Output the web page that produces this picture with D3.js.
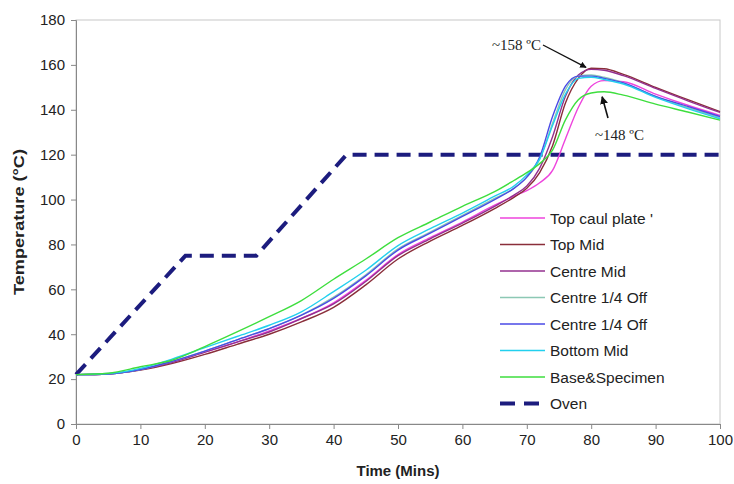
<!DOCTYPE html>
<html>
<head>
<meta charset="utf-8">
<script src="https://cdn.jsdelivr.net/npm/d3@7"></script>
<style>
  body { margin: 0; background: #fff; }
  svg { display: block; font-family: "Liberation Sans", Arial, sans-serif; }
</style>
</head>
<body>
<div id="chart"></div>
<script>
// ─── Data ───
var times = [0, 5, 10, 15, 20, 25, 30, 35, 40, 45, 50, 55, 60, 65, 68, 70, 72, 74, 76, 78, 80, 82, 85, 90, 95, 100];

var topCaul   = [22, 22.3, 24.2, 27.5, 32, 36.5, 41.5, 47, 54, 64, 75.5, 83, 90, 97.5, 101.5, 104, 107.5, 113, 127, 141, 150.5, 153, 152.5, 147, 142, 137.5];
var topMid    = [22, 22.3, 24, 27, 31, 35.5, 40, 45.5, 52, 62, 73.5, 81.5, 88.5, 96, 101, 105, 112, 124, 143, 154, 158.5, 158.3, 155.8, 150, 144.5, 139.2];
var centreMid = [22, 22.3, 24.2, 27.5, 32, 36.5, 41, 47, 53.5, 63.5, 75, 82.5, 89.5, 97, 102, 106, 114, 128, 146, 155.5, 158, 157.6, 155.2, 149.5, 144, 138.8];
var centreQ1  = [22, 22.3, 24.3, 28, 32.5, 37.5, 42.5, 48.5, 56.5, 66.5, 78, 85.5, 93, 100.5, 105, 110, 118, 134, 149, 155, 155.5, 154.5, 152, 146, 141, 136.5];
var centreQ2  = [22, 22.3, 24.3, 28, 32.5, 37.5, 42.5, 48.5, 56, 66, 77.5, 85, 92.5, 100, 105, 110, 119, 137, 150.5, 155, 155, 154, 152, 146, 141.5, 137];
var bottomMid = [22, 22.5, 24.8, 29, 34, 39, 44, 50, 59, 68.5, 79.5, 87, 94, 101.5, 106, 111, 118, 133, 147, 154, 154.5, 153.5, 151.5, 145.5, 140.5, 136];
var baseSpec  = [22, 22.6, 25.5, 28.5, 34.5, 41, 47.8, 55, 64.5, 73.5, 83, 90, 97, 103.5, 108.5, 112, 116, 122, 135.5, 144.5, 147.5, 148, 146.5, 142.5, 139, 135.4];

var ovenTimes = [0, 17, 28, 42, 100];
var ovenTemps = [22, 75, 75, 120, 120];

var seriesNames = ["Top caul plate '", 'Top Mid', 'Centre Mid', 'Centre 1/4 Off', 'Centre 1/4 Off', 'Bottom Mid', 'Base&Specimen'];
var seriesValues = [topCaul, topMid, centreMid, centreQ1, centreQ2, bottomMid, baseSpec];
var seriesColors = ['#ee44dd', '#8a2e3a', '#93308f', '#8cc8b4', '#4a4ae6', '#22d0ee', '#3ede3e'];

var xTicks = [0, 10, 20, 30, 40, 50, 60, 70, 80, 90, 100];
var yTicks = [0, 20, 40, 60, 80, 100, 120, 140, 160, 180];

// ─── Chart ───
var W = 734, H = 484;
var M = { left: 76, right: 14, top: 20, bottom: 60 };
var svg = d3.select('#chart').append('svg').attr('width', W).attr('height', H);

var x = d3.scaleLinear().domain([0, 100]).range([M.left, W - M.right]);
var y = d3.scaleLinear().domain([0, 180]).range([H - M.bottom, M.top]);

// plot frame (light top/right)
svg.append('rect').attr('x', x(0)).attr('y', y(180)).attr('width', x(100) - x(0)).attr('height', y(0) - y(180))
  .attr('fill', 'none').attr('stroke', '#c8c8c8').attr('stroke-width', 1);

var xAxis = svg.append('g').attr('transform', 'translate(0,' + y(0) + ')')
  .call(d3.axisBottom(x).tickValues(xTicks).tickSize(5).tickPadding(5));
var yAxis = svg.append('g').attr('transform', 'translate(' + x(0) + ',0)')
  .call(d3.axisLeft(y).tickValues(yTicks).tickSize(5).tickPadding(6));
[xAxis, yAxis].forEach(function(a) {
  a.select('.domain').attr('stroke', '#888');
  a.selectAll('.tick line').attr('stroke', '#888');
  a.selectAll('.tick text').attr('fill', '#222').attr('font-size', '15px').attr('font-family', '"Liberation Sans", Arial, sans-serif');
});

svg.append('text').attr('x', (x(0) + x(100)) / 2).attr('y', 476).attr('text-anchor', 'middle')
  .attr('font-size', '14px').attr('font-weight', '700').attr('fill', '#222')
  .attr('textLength', 83).attr('lengthAdjust', 'spacingAndGlyphs').text('Time (Mins)');
svg.append('text').attr('transform', 'translate(24,' + ((y(0) + y(180)) / 2) + ') rotate(-90)').attr('text-anchor', 'middle')
  .attr('font-size', '14px').attr('font-weight', '700').attr('fill', '#222')
  .attr('textLength', 146).attr('lengthAdjust', 'spacingAndGlyphs').text('Temperature (°C)');

var line = d3.line().x(function(d) { return x(d[0]); }).y(function(d) { return y(d[1]); }).curve(d3.curveMonotoneX);

// oven
svg.append('path').datum(ovenTimes.map(function(t, i) { return [t, ovenTemps[i]]; }))
  .attr('d', d3.line().x(function(d) { return x(d[0]); }).y(function(d) { return y(d[1]); }))
  .attr('fill', 'none').attr('stroke', '#1c1c7e').attr('stroke-width', 4).attr('stroke-dasharray', '14,8');

// thermocouples
seriesValues.forEach(function(vals, i) {
  svg.append('path').datum(times.map(function(t, j) { return [t, vals[j]]; }))
    .attr('d', line).attr('fill', 'none').attr('stroke', seriesColors[i]).attr('stroke-width', 1.4);
});

// legend
var legend = svg.append('g').attr('transform', 'translate(500,218)');
var legendItems = seriesNames.map(function(n, i) { return { name: n, color: seriesColors[i], dash: null }; });
legendItems.push({ name: 'Oven', color: '#1c1c7e', dash: '15,9' });
legendItems.forEach(function(d, i) {
  var ly = i * 26.5;
  legend.append('line').attr('x1', 0).attr('x2', 45).attr('y1', ly).attr('y2', ly)
    .attr('stroke', d.color).attr('stroke-width', d.dash ? 4 : 1.4).attr('stroke-dasharray', d.dash);
  legend.append('text').attr('x', 50).attr('y', ly + 5.5).text(d.name).attr('fill', '#222').attr('font-size', '15.5px');
});

// annotations
svg.append('defs').append('marker').attr('id', 'arr').attr('viewBox', '0 0 10 10').attr('refX', 9).attr('refY', 5)
  .attr('markerWidth', 5).attr('markerHeight', 5).attr('orient', 'auto')
  .append('path').attr('d', 'M0,0 L10,5 L0,10 z').attr('fill', '#111');

svg.append('text').attr('x', 492).attr('y', 50).text('~158 ºC').attr('font-family', '"Liberation Serif", "Times New Roman", serif')
  .attr('font-size', '15px').attr('fill', '#222');
svg.append('line').attr('x1', 543).attr('y1', 45).attr('x2', x(79.2)).attr('y2', y(158) - 2)
  .attr('stroke', '#111').attr('stroke-width', 1.3).attr('marker-end', 'url(#arr)');

svg.append('text').attr('x', 595).attr('y', 140).text('~148 ºC').attr('font-family', '"Liberation Serif", "Times New Roman", serif')
  .attr('font-size', '15px').attr('fill', '#222');
svg.append('line').attr('x1', 608).attr('y1', 118).attr('x2', x(81.7)).attr('y2', y(148) + 5)
  .attr('stroke', '#111').attr('stroke-width', 1.6).attr('marker-end', 'url(#arr)');
</script>
</body>
</html>
